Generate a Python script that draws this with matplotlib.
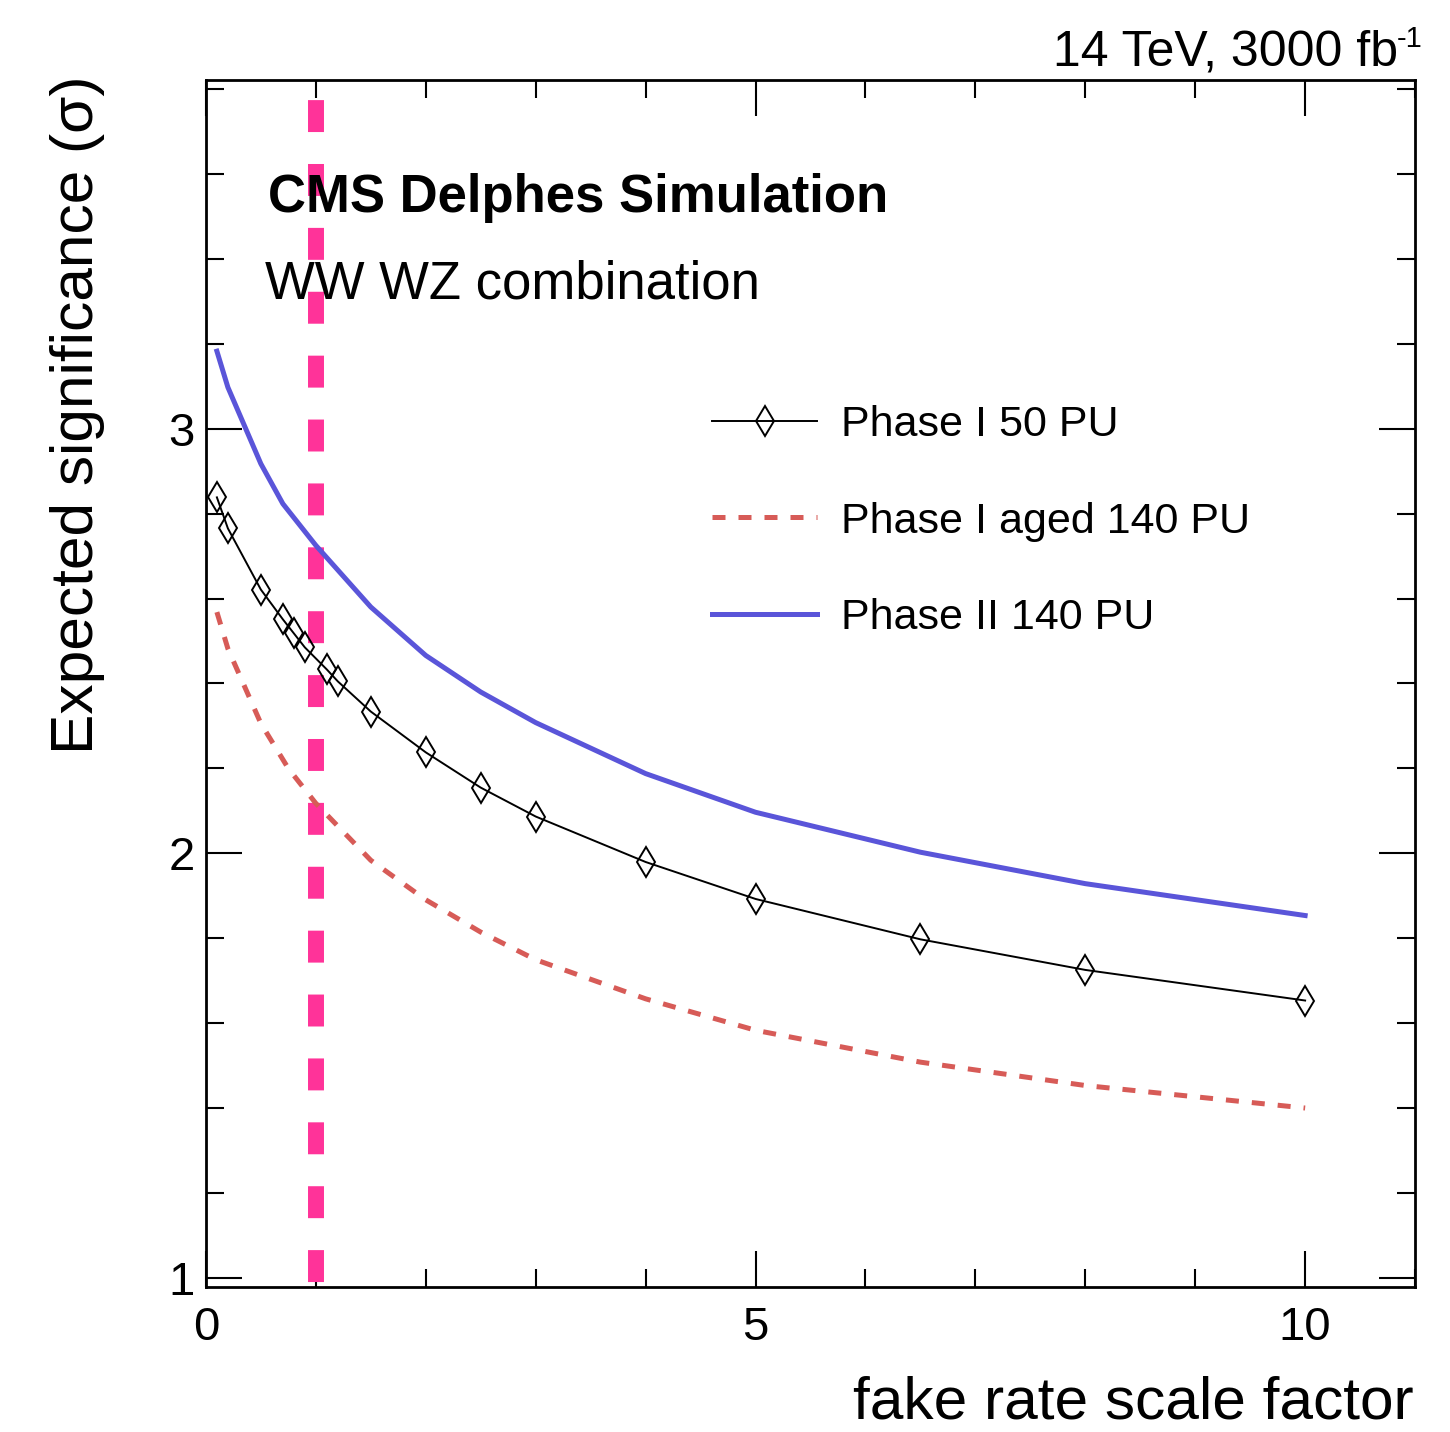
import matplotlib
matplotlib.use('Agg')
import matplotlib.pyplot as plt
from matplotlib.ticker import MultipleLocator

plt.rcParams['font.family'] = ['Liberation Sans', 'DejaVu Sans']
plt.rcParams['mathtext.default'] = 'regular'

# Phase I 50 PU
x_p1 = [0.1, 0.2, 0.5, 0.7, 0.8, 0.9, 1.1, 1.2, 1.5, 2, 2.5, 3, 4, 5, 6.5, 8, 10]
y_p1 = [2.838, 2.765, 2.621, 2.551, 2.518, 2.485, 2.433, 2.405, 2.334,
        2.238, 2.155, 2.087, 1.980, 1.893, 1.798, 1.726, 1.654]

# Phase I aged 140 PU
x_aged = [0.1, 0.2, 0.5, 0.75, 1, 1.5, 2, 2.5, 3, 4, 5, 6.5, 8, 10]
y_aged = [2.568, 2.482, 2.306, 2.200, 2.118, 1.984, 1.891, 1.815, 1.750,
          1.658, 1.584, 1.509, 1.454, 1.401]

# Phase II 140 PU
x_p2 = [0.1, 0.2, 0.5, 0.7, 1.0, 1.5, 2, 2.5, 3, 4, 5, 6.5, 8, 10]
y_p2 = [3.182, 3.097, 2.917, 2.823, 2.725, 2.580, 2.466, 2.380, 2.308,
        2.188, 2.097, 2.003, 1.929, 1.854]

nominal_sf = 1.0

fig = plt.figure(figsize=(14.5, 14.32), dpi=100)
ax = fig.add_axes([0.142, 0.1013, 0.8339, 0.8428])

ax.plot(x_p1, y_p1, color='black', lw=1.4, marker='d', ms=15, mfc='none',
        mew=1.4, label='Phase I 50 PU', zorder=4)
ax.plot(x_aged, y_aged, color='#d75b57', lw=3.6, dashes=(2.6, 2.6),
        label='Phase I aged 140 PU', zorder=3)
ax.plot(x_p2, y_p2, color='#5a55d9', lw=3.6, label='Phase II 140 PU', zorder=3)
ax.axvline(nominal_sf, color='#ff3399', lw=11.5, linestyle=(3.69, (2, 2)),
           zorder=2)

ax.set_xlim(0, 11)
ax.set_ylim(0.98, 3.82)
ax.xaxis.set_major_locator(MultipleLocator(5))
ax.xaxis.set_minor_locator(MultipleLocator(1))
ax.yaxis.set_major_locator(MultipleLocator(1))
ax.yaxis.set_minor_locator(MultipleLocator(0.2))
ax.tick_params(which='both', direction='in', top=True, right=True, width=1.5,
               labelsize=34)
ax.tick_params(which='major', length=26)
ax.tick_params(which='minor', length=13)
ax.tick_params(axis='x', pad=14)
ax.tick_params(axis='y', pad=8)
for s in ax.spines.values():
    s.set_linewidth(2)

ax.text(0.0513, 0.8907, 'CMS Delphes Simulation', transform=ax.transAxes,
        fontsize=38, fontweight='bold', va='baseline')
ax.text(0.0488, 0.8194, 'WW WZ combination', transform=ax.transAxes,
        fontsize=38, va='baseline')

ax.legend(loc='upper left', bbox_to_anchor=(0.4185, 0.731), frameon=False,
          fontsize=31, handlelength=2.45, handletextpad=0.55, labelspacing=1.32,
          borderpad=0, borderaxespad=0, numpoints=1)

lumi = fig.text(0.9645, 0.9546, '14 TeV, 3000 fb', ha='right', va='baseline',
                fontsize=36)
ax.annotate('-1', xy=(1, 1), xycoords=lumi, xytext=(-1, 3),
            textcoords='offset points', ha='left', va='top', fontsize=21)
fig.text(0.975, 0.001, 'fake rate scale factor', ha='right', va='bottom',
         fontsize=43.5)
fig.text(0.0535, 0.947, 'Expected significance (σ)', rotation=90,
         ha='center', va='top', fontsize=43.5)

fig.savefig('out.png', dpi=100)
